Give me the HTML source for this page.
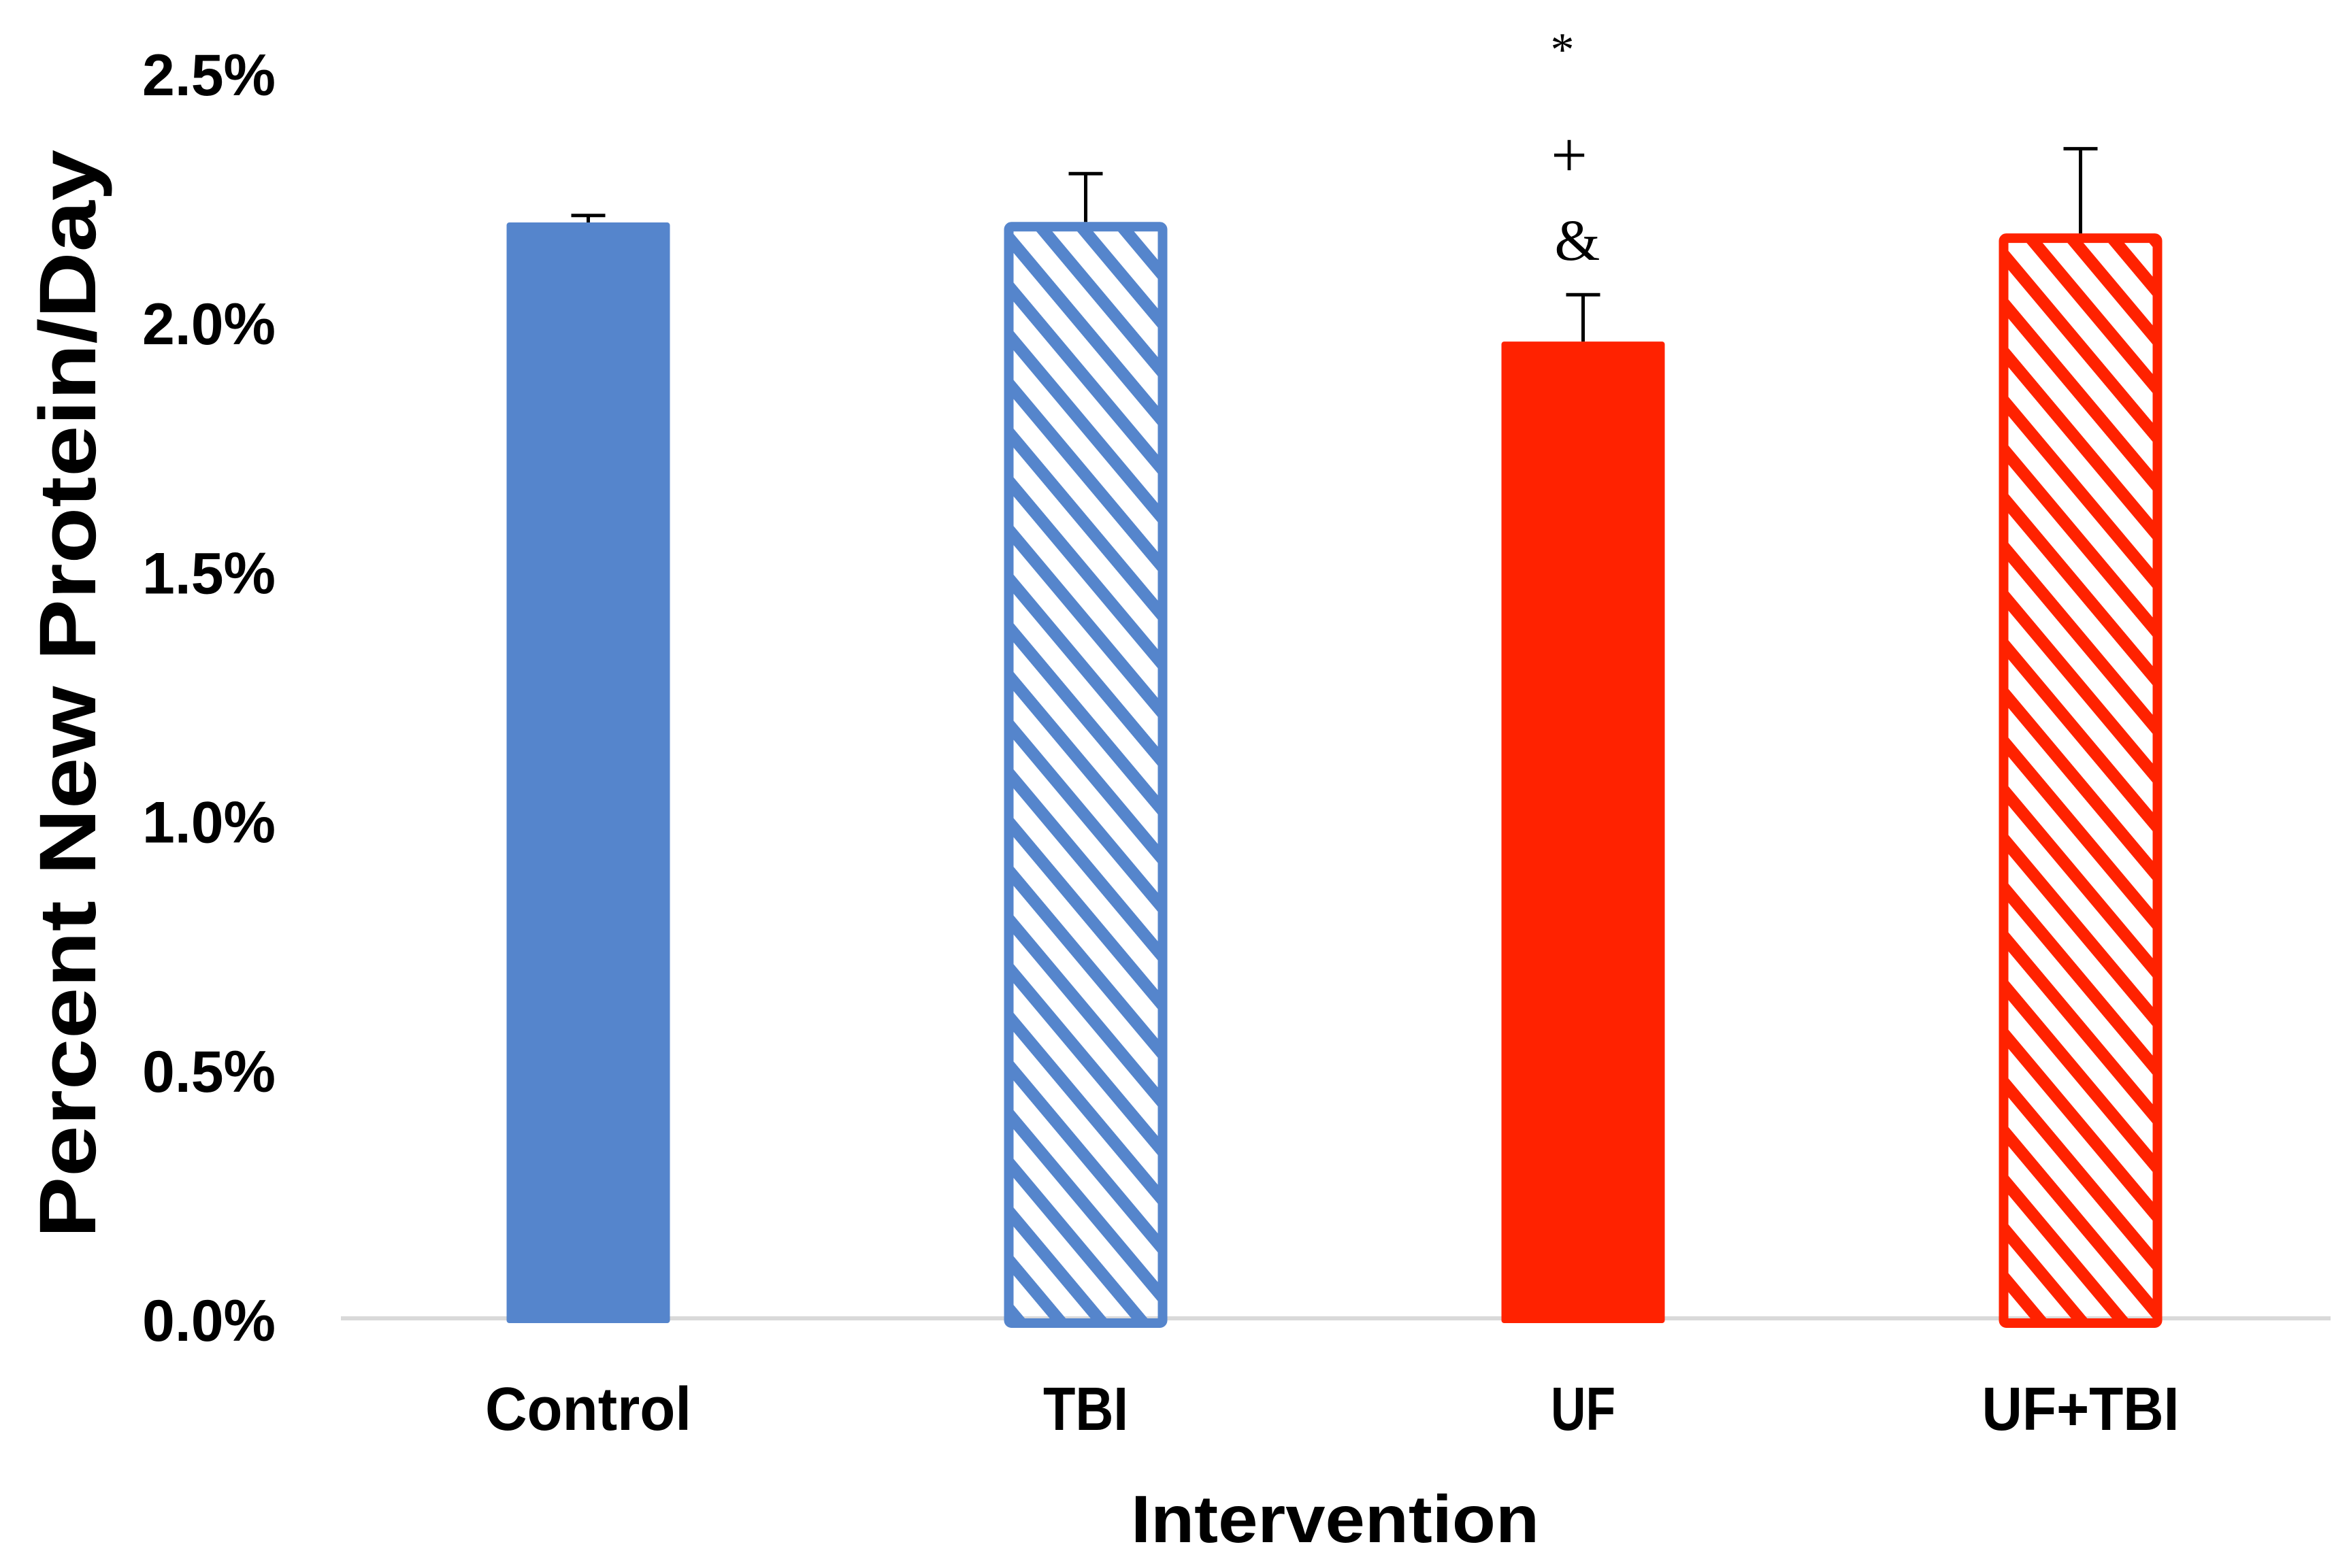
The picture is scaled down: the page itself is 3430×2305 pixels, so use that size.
<!DOCTYPE html>
<html><head><meta charset="utf-8"><style>
html,body{margin:0;padding:0;background:#fff;}
svg{display:block;}
text{font-family:"Liberation Sans",sans-serif;font-weight:bold;fill:#000;}
</style></head><body>
<svg id="chart" width="3430" height="2305" viewBox="0 0 3430 2305" xmlns="http://www.w3.org/2000/svg">
<defs>
<pattern id="hatch-blue" patternUnits="userSpaceOnUse" width="46" height="46" patternTransform="rotate(50)">
<rect x="0" y="0" width="46" height="18" fill="#5585cc"/>
</pattern>
<pattern id="hatch-red" patternUnits="userSpaceOnUse" width="46" height="46" patternTransform="rotate(50)">
<rect x="0" y="0" width="46" height="18" fill="#ff2200"/>
</pattern>
</defs>
<g id="yticks"></g>
<line x1="501" y1="1938" x2="3425" y2="1938" stroke="#d9d9d9" stroke-width="6"/>
<g id="bars"></g>
<g id="xlabels"></g>
<text transform="translate(140,1020) rotate(-90)" text-anchor="middle" font-size="118" textLength="1600" lengthAdjust="spacingAndGlyphs">Percent New Protein/Day</text>
<text x="1962" y="2267" text-anchor="middle" font-size="98" textLength="600" lengthAdjust="spacingAndGlyphs">Intervention</text>
<g>
<text x="2296" y="96" text-anchor="middle" font-size="70" style="font-family:'Liberation Serif',serif;font-weight:normal">*</text>
<text x="2306" y="260" text-anchor="middle" font-size="95" style="font-family:'Liberation Serif',serif;font-weight:normal">+</text>
<text x="2318" y="382" text-anchor="middle" font-size="86" style="font-family:'Liberation Serif',serif;font-weight:normal">&amp;</text>
</g>
</svg>
<script>
const categories = ["Control", "TBI", "UF", "UF+TBI"];
const values = [2.202, 2.203, 1.963, 2.18];
const errors = [0.014, 0.097, 0.094, 0.17];
const yTicks = [0, 0.5, 1.0, 1.5, 2.0, 2.5];
const yTickLabels = ["0.0%", "0.5%", "1.0%", "1.5%", "2.0%", "2.5%"];

const NS = "http://www.w3.org/2000/svg";
const plotLeft = 499, catW = 731, zeroY = 1940, perUnit = 732.5, barW = 240;
const fills = ["#5585cc", "url(#hatch-blue)", "#ff2200", "url(#hatch-red)"];
const strokes = ["#5585cc", "#5585cc", "#ff2200", "#ff2200"];
function yScale(v){ return zeroY - v * perUnit; }
function xCenter(i){ return plotLeft + catW * (i + 0.5); }
function mk(tag, attrs, parent){ const e = document.createElementNS(NS, tag); for (const k in attrs) e.setAttribute(k, attrs[k]); parent.appendChild(e); return e; }

const yt = document.getElementById("yticks");
yTicks.forEach((t, i) => {
  const el = mk("text", {x: 405, y: yScale(t) + 31, "text-anchor": "end", "font-size": 86, textLength: 196, lengthAdjust: "spacingAndGlyphs"}, yt);
  
  
  el.textContent = yTickLabels[i];
});

const bars = document.getElementById("bars");
categories.forEach((c, i) => {
  const cx = xCenter(i), top = yScale(values[i]), h = zeroY + 5 - top;
  const hatched = i % 2 === 1;
  const r = mk("rect", {x: cx - barW/2 + (hatched ? 7 : 0), y: top + (hatched ? 7 : 0), width: barW - (hatched ? 14 : 0), height: h - (hatched ? 7 : 0), fill: fills[i], stroke: hatched ? strokes[i] : "none", "stroke-width": hatched ? 14 : 0, rx: 4}, bars);
  
  
  const et = yScale(values[i] + errors[i]);
  const eb = mk("path", {d: `M${cx} ${top} V${et} M${cx-25} ${et} H${cx+25}`, stroke: "#000", "stroke-width": 5, fill: "none"}, bars);
  
  
});

const xl = document.getElementById("xlabels");
const lw = [303, 125, 95, 290];
categories.forEach((c, i) => {
  const el = mk("text", {x: xCenter(i), y: 2102, "text-anchor": "middle", "font-size": 90, textLength: lw[i], lengthAdjust: "spacingAndGlyphs"}, xl);
  
  
  el.textContent = c;
});
</script>
</body></html>
